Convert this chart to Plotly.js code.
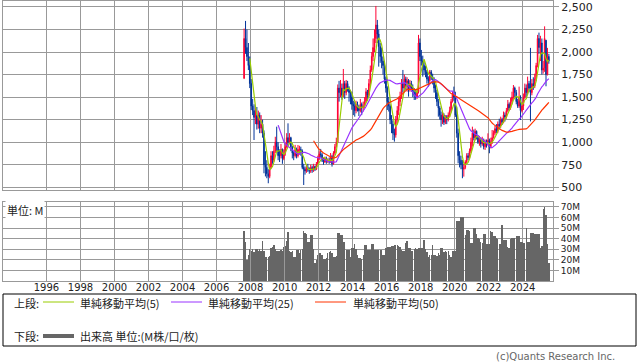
<!DOCTYPE html>
<html>
<head>
<meta charset="utf-8">
<script src="https://cdn.plot.ly/plotly-3.0.1.min.js"></script>
<style>
  html, body { margin: 0; padding: 0; background: #fff; }
  #chart { width: 638px; height: 362px; }
</style>
</head>
<body>
<div id="chart"></div>
<script>
// ---- data (monthly, Aug 2007 - Jul 2025) ----
const firstYear = 2007, firstMonth = 8;

const opens = [].concat(
  [1710, 2150, 2050, 1950, 1850],
  [1650, 1400, 1350, 1275, 1300, 1200, 1300, 1155, 1200, 1100, 750, 720],
  [650, 620, 720, 850, 800, 900, 1000, 950, 850, 850, 920, 820],
  [880, 950, 1050, 1000, 1050, 950, 880, 850, 920, 850, 920, 920],
  [900, 720, 700, 680, 720, 700, 680, 720, 690, 730, 700, 760],
  [820, 870, 860, 800, 780, 820, 790, 800, 780, 840, 760, 880],
  [950, 1000, 1600, 1550, 1600, 1520, 1650, 1550, 1650, 1600, 1550, 1500],
  [1420, 1400, 1350, 1420, 1380, 1350, 1420, 1380, 1400, 1450, 1560, 1520],
  [1650, 1800, 1950, 2050, 2150, 2300, 2200, 2060, 1950, 1900, 1850, 1700],
  [1600, 1450, 1400, 1250, 1200, 1100, 1080, 1250, 1350, 1450, 1500, 1650],
  [1600, 1700, 1620, 1680, 1580, 1650, 1600, 1550, 1520, 1500, 1560, 2100],
  [1950, 1900, 1850, 1800, 1780, 1700, 1680, 1780, 1720, 1700, 1600, 1550],
  [1450, 1380, 1300, 1250, 1300, 1220, 1280, 1250, 1300, 1350, 1450, 1530],
  [1500, 1300, 1100, 850, 800, 750, 700, 720, 780, 850, 830, 900],
  [1000, 1100, 1050, 1120, 1050, 1000, 1030, 980, 1020, 950, 1000, 980],
  [1020, 950, 1000, 1050, 1100, 1150, 1120, 1200, 1180, 1250, 1220, 1300],
  [1280, 1350, 1420, 1380, 1450, 1500, 1600, 1550, 1450, 1400, 1500, 1350],
  [1400, 1500, 1600, 1550, 1650, 1600, 1550, 1650, 1620, 1700, 1850, 2150],
  [2050, 2100, 1800, 1820, 2130, 1750, 1950]
);
const highs = [].concat(
  [2260, 2345, 2250, 2100, 1950],
  [1700, 1480, 1420, 1400, 1390, 1350, 1330, 1300, 1250, 1130, 900, 800],
  [700, 760, 900, 900, 960, 1060, 1172, 1000, 920, 980, 930, 920],
  [990, 1100, 1209, 1100, 1060, 960, 900, 970, 940, 969, 960, 950],
  [920, 760, 730, 750, 760, 720, 750, 740, 760, 740, 780, 850],
  [900, 925, 880, 830, 840, 840, 820, 830, 880, 860, 900, 980],
  [1050, 1640, 1680, 1690, 1650, 1812, 1680, 1690, 1680, 1620, 1580, 1560],
  [1460, 1450, 1460, 1450, 1410, 1480, 1440, 1450, 1500, 1600, 1580, 1700],
  [1850, 2000, 2150, 2250, 2511, 2356, 2250, 2100, 2050, 1950, 1880, 1727],
  [1620, 1500, 1420, 1300, 1240, 1150, 1290, 1400, 1505, 1560, 1700, 1801],
  [1750, 1727, 1720, 1700, 1690, 1680, 1640, 1600, 1579, 1600, 2190, 2150],
  [2023, 1960, 1900, 1850, 1800, 1730, 1801, 1800, 1760, 1720, 1640, 1580],
  [1480, 1400, 1340, 1350, 1320, 1300, 1300, 1330, 1394, 1480, 1560, 1616],
  [1560, 1394, 1150, 900, 850, 803, 760, 800, 877, 880, 930, 1050],
  [1172, 1140, 1150, 1130, 1080, 1070, 1050, 1060, 1040, 1030, 1030, 1098],
  [1040, 1050, 1135, 1130, 1180, 1200, 1230, 1260, 1283, 1270, 1340, 1330],
  [1380, 1468, 1440, 1490, 1560, 1634, 1616, 1580, 1480, 1616, 1520, 1440],
  [1540, 1650, 1640, 1727, 1680, 2046, 1700, 1720, 1760, 1880, 2190, 2215],
  [2180, 2150, 1900, 2285, 2135, 2046, 1980]
);
const lows = [].concat(
  [1700, 1980, 1900, 1800, 1600],
  [1357, 1300, 1024, 1200, 1140, 1150, 1100, 1100, 1050, 655, 620, 600],
  [544, 600, 700, 760, 780, 880, 900, 800, 780, 820, 760, 800],
  [850, 930, 950, 980, 900, 820, 800, 830, 820, 830, 860, 850],
  [700, 525, 640, 660, 670, 650, 660, 660, 670, 680, 690, 750],
  [800, 830, 780, 750, 770, 760, 770, 760, 770, 729, 750, 860],
  [940, 990, 1450, 1500, 1470, 1500, 1480, 1520, 1560, 1450, 1420, 1360],
  [1300, 1283, 1320, 1340, 1290, 1330, 1300, 1340, 1380, 1430, 1460, 1500],
  [1620, 1780, 1900, 2000, 2100, 2100, 1838, 1880, 1820, 1750, 1650, 1550],
  [1357, 1340, 1200, 1100, 1024, 1006, 1050, 1209, 1300, 1400, 1480, 1550],
  [1560, 1580, 1560, 1505, 1560, 1560, 1500, 1468, 1470, 1480, 1540, 1900],
  [1850, 1727, 1750, 1720, 1650, 1616, 1650, 1690, 1640, 1550, 1480, 1400],
  [1283, 1250, 1172, 1200, 1190, 1200, 1200, 1230, 1280, 1330, 1440, 1460],
  [1280, 1050, 765, 720, 700, 600, 618, 700, 760, 800, 820, 880],
  [950, 1020, 1020, 1030, 980, 960, 940, 960, 920, 914, 940, 960],
  [877, 930, 980, 1040, 1080, 1098, 1100, 1140, 1160, 1190, 1209, 1230],
  [1260, 1330, 1350, 1360, 1420, 1480, 1500, 1420, 1380, 1380, 1246, 1330],
  [1357, 1480, 1500, 1530, 1560, 1230, 1520, 1580, 1600, 1680, 1830, 1980],
  [1900, 1750, 1760, 1780, 1620, 1740, 1870]
);
const closes = [].concat(
  [2150, 2050, 1950, 1850, 1650],
  [1400, 1350, 1275, 1300, 1200, 1300, 1155, 1200, 1100, 750, 720, 650],
  [620, 720, 850, 800, 900, 1000, 950, 850, 850, 920, 820, 880],
  [950, 1050, 1000, 1050, 950, 880, 850, 920, 850, 920, 920, 900],
  [720, 700, 680, 720, 700, 680, 720, 690, 730, 700, 760, 820],
  [870, 860, 800, 780, 820, 790, 800, 780, 840, 760, 880, 950],
  [1000, 1600, 1550, 1600, 1520, 1650, 1550, 1650, 1600, 1550, 1500, 1420],
  [1400, 1350, 1420, 1380, 1350, 1420, 1380, 1400, 1450, 1560, 1520, 1650],
  [1800, 1950, 2050, 2150, 2300, 2200, 2060, 1950, 1900, 1850, 1700, 1600],
  [1450, 1400, 1250, 1200, 1100, 1080, 1250, 1350, 1450, 1500, 1650, 1600],
  [1700, 1620, 1680, 1580, 1650, 1600, 1550, 1520, 1500, 1560, 2100, 1950],
  [1900, 1850, 1800, 1780, 1700, 1680, 1780, 1720, 1700, 1600, 1550, 1450],
  [1380, 1300, 1250, 1300, 1220, 1280, 1250, 1300, 1350, 1450, 1530, 1500],
  [1300, 1100, 850, 800, 750, 700, 720, 780, 850, 830, 900, 1000],
  [1100, 1050, 1120, 1050, 1000, 1030, 980, 1020, 950, 1000, 980, 1020],
  [950, 1000, 1050, 1100, 1150, 1120, 1200, 1180, 1250, 1220, 1300, 1280],
  [1350, 1420, 1380, 1450, 1500, 1600, 1550, 1450, 1400, 1500, 1350, 1400],
  [1500, 1600, 1550, 1650, 1600, 1550, 1650, 1620, 1700, 1850, 2150, 2050],
  [2100, 1800, 1820, 2150, 1750, 1950, 1900]
);
// volume in millions
const volumes = [].concat(
  [47, 37, 20, 25, 30],
  [28, 30, 27, 30, 30, 28, 30, 28, 38, 28, 23, 23],
  [23, 24, 31, 32, 34, 30, 28, 28, 28, 29, 28, 32],
  [33, 38, 46, 28, 27, 28, 23, 23, 29, 29, 26, 29],
  [30, 47, 45, 44, 37, 37, 43, 43, 30, 17, 20, 25],
  [26, 26, 25, 21, 21, 22, 26, 27, 28, 26, 23, 23],
  [24, 45, 45, 43, 43, 37, 37, 29, 29, 29, 23, 31],
  [31, 35, 30, 25, 22, 22, 21, 25, 34, 34, 29, 29],
  [29, 35, 35, 29, 29, 29, 29, 29, 29, 25, 25, 31],
  [32, 32, 32, 33, 33, 34, 34, 34, 33, 32, 29, 28],
  [28, 36, 38, 31, 31, 28, 28, 30, 31, 30, 31, 31],
  [31, 31, 39, 30, 27, 23, 25, 25, 34, 25, 25, 24],
  [26, 25, 31, 31, 27, 28, 27, 28, 25, 23, 28, 28],
  [28, 57, 57, 57, 60, 60, 60, 43, 48, 48, 47, 36],
  [36, 50, 50, 44, 41, 40, 37, 36, 44, 44, 35, 35],
  [35, 47, 46, 42, 42, 41, 40, 35, 35, 53, 39, 39],
  [39, 32, 31, 40, 41, 41, 41, 42, 42, 42, 37, 37],
  [36, 36, 50, 37, 37, 45, 45, 45, 44, 44, 44, 44],
  [31, 33, 68, 70, 62, 35, 17]
);
const yearTicks = [1996, 1998, 2000, 2002, 2004, 2006, 2008, 2010, 2012, 2014, 2016, 2018, 2020, 2022, 2024];
const priceTicks = [500, 750, 1000, 1250, 1500, 1750, 2000, 2250, 2500];
const volTicks = [10, 20, 30, 40, 50, 60, 70];
const maPeriods = [5, 25, 50];
const maColors = ['#99cc00', '#9933ff', '#ff3300'];
const maNames = ['単純移動平均(5)', '単純移動平均(25)', '単純移動平均(50)'];

// ---- month categories ----
const months = closes.map((_, i) => {
  const m0 = firstMonth - 1 + i;
  const y = firstYear + Math.floor(m0 / 12);
  const m = (m0 % 12) + 1;
  return y + '-' + String(m).padStart(2, '0') + '-15';
});

function sma(arr, n) {
  return arr.map((v, i) => {
    if (i < n - 1) return null;
    let s = 0;
    for (let k = i - n + 1; k <= i; k++) s += arr[k];
    return s / n;
  });
}

const FONT = 'DejaVu Sans, Verdana, sans-serif';
const JFONT = 'Noto Sans CJK JP, sans-serif';
const GRID = '#999999';

const traces = [];
traces.push({
  type: 'candlestick', x: months, open: opens, high: highs, low: lows, close: closes,
  xaxis: 'x', yaxis: 'y',
  increasing: { line: { color: '#ff0033', width: 1 }, fillcolor: '#ff0033' },
  decreasing: { line: { color: '#003399', width: 1 }, fillcolor: '#003399' },
  whiskerwidth: 0, showlegend: false, hoverinfo: 'skip'
});
maPeriods.forEach((p, k) => {
  traces.push({
    type: 'scatter', mode: 'lines', x: months, y: sma(closes, p),
    xaxis: 'x', yaxis: 'y', line: { color: maColors[k], width: 1.2 },
    showlegend: false, hoverinfo: 'skip', connectgaps: false
  });
});
traces.push({
  type: 'bar', x: months, y: volumes, xaxis: 'x2', yaxis: 'y2',
  marker: { color: '#666666', line: { width: 0 } }, showlegend: false, hoverinfo: 'skip'
});

// pixel -> paper helpers (plot area x: 3..553, y: 1..281)
const L = 3, R = 553, T = 1, B = 281;
const px = x => (x - L) / (R - L);
const py = y => (B - y) / (B - T);

const xRange = ['1993-06-12', '2025-10-12'];
const tickDates = yearTicks.map(y => y + '-01-01');

const baseX = {
  type: 'date', range: xRange, tickvals: tickDates, ticktext: yearTicks.map(String),
  showgrid: true, gridcolor: GRID, gridwidth: 1, zeroline: false,
  showline: true, mirror: true, linecolor: GRID, linewidth: 1, ticks: '',
  fixedrange: true
};
const layout = {
  width: 638, height: 362,
  margin: { l: L, r: 638 - R, t: T, b: 362 - B, pad: 0 },
  paper_bgcolor: '#ffffff', plot_bgcolor: '#ffffff',
  showlegend: false, bargap: 0,
  font: { family: FONT, size: 10, color: '#222222' },
  xaxis: Object.assign({}, baseX, { anchor: 'y', showticklabels: false, rangeslider: { visible: false } }),
  xaxis2: Object.assign({}, baseX, { anchor: 'y2', matches: 'x', showticklabels: true,
    ticklabelstandoff: -3,
    tickfont: { family: FONT, size: 10, color: '#222222' } }),
  yaxis: {
    domain: [py(189.5), 1], range: [475, 2566], side: 'right',
    tickvals: priceTicks, tickformat: ',d', ticks: 'outside', ticklen: 5, tickcolor: GRID,
    showgrid: true, gridcolor: GRID, zeroline: false,
    showline: true, mirror: true, linecolor: GRID, linewidth: 1,
    tickfont: { family: FONT, size: 11, color: '#222222' }, fixedrange: true
  },
  yaxis2: {
    domain: [0, py(201.5)], range: [0, 75], side: 'right',
    tickvals: volTicks, ticktext: volTicks.map(v => v + 'M'), ticks: 'outside', ticklen: 5, tickcolor: GRID,
    showgrid: true, gridcolor: GRID, zeroline: false,
    showline: true, mirror: true, linecolor: GRID, linewidth: 1,
    tickfont: { family: FONT, size: 9, color: '#222222' }, fixedrange: true
  },
  shapes: [
    { type: 'rect', xref: 'paper', yref: 'paper', x0: px(3), x1: px(636), y0: py(294), y1: py(346),
      line: { color: '#000000', width: 1 }, fillcolor: 'rgba(0,0,0,0)' },
    { type: 'line', xref: 'paper', yref: 'paper', x0: px(43), x1: px(74), y0: py(302), y1: py(302),
      line: { color: maColors[0], width: 1 } },
    { type: 'line', xref: 'paper', yref: 'paper', x0: px(171), x1: px(202), y0: py(302), y1: py(302),
      line: { color: maColors[1], width: 1 } },
    { type: 'line', xref: 'paper', yref: 'paper', x0: px(315), x1: px(346), y0: py(302), y1: py(302),
      line: { color: maColors[2], width: 1 } },
    { type: 'line', xref: 'paper', yref: 'paper', x0: px(43), x1: px(74), y0: py(336), y1: py(336),
      line: { color: '#666666', width: 4 } }
  ],
  annotations: [
    { xref: 'paper', yref: 'paper', x: px(5), y: py(209.5), xanchor: 'left', yanchor: 'middle',
      text: '単位: M', showarrow: false, bgcolor: '#ffffff', borderpad: 1,
      font: { family: JFONT, size: 11, color: '#222222' } },
    { xref: 'paper', yref: 'paper', x: px(12), y: py(303), xanchor: 'left', yanchor: 'middle',
      text: '上段:', showarrow: false, font: { family: JFONT, size: 11, color: '#222222' } },
    { xref: 'paper', yref: 'paper', x: px(78), y: py(303), xanchor: 'left', yanchor: 'middle',
      text: maNames[0], showarrow: false, font: { family: JFONT, size: 11, color: '#222222' } },
    { xref: 'paper', yref: 'paper', x: px(206), y: py(303), xanchor: 'left', yanchor: 'middle',
      text: maNames[1], showarrow: false, font: { family: JFONT, size: 11, color: '#222222' } },
    { xref: 'paper', yref: 'paper', x: px(351), y: py(303), xanchor: 'left', yanchor: 'middle',
      text: maNames[2], showarrow: false, font: { family: JFONT, size: 11, color: '#222222' } },
    { xref: 'paper', yref: 'paper', x: px(12), y: py(336), xanchor: 'left', yanchor: 'middle',
      text: '下段:', showarrow: false, font: { family: JFONT, size: 11, color: '#222222' } },
    { xref: 'paper', yref: 'paper', x: px(78), y: py(336), xanchor: 'left', yanchor: 'middle',
      text: '出来高 単位:(M株/口/枚)', showarrow: false, font: { family: JFONT, size: 11, color: '#222222' } },
    { xref: 'paper', yref: 'paper', x: px(617), y: py(356), xanchor: 'right', yanchor: 'middle',
      text: '(c)Quants Research Inc.', showarrow: false, font: { family: FONT, size: 10, color: '#666666' } }
  ]
};

Plotly.newPlot('chart', traces, layout, { staticPlot: true, displayModeBar: false });
</script>
</body>
</html>
